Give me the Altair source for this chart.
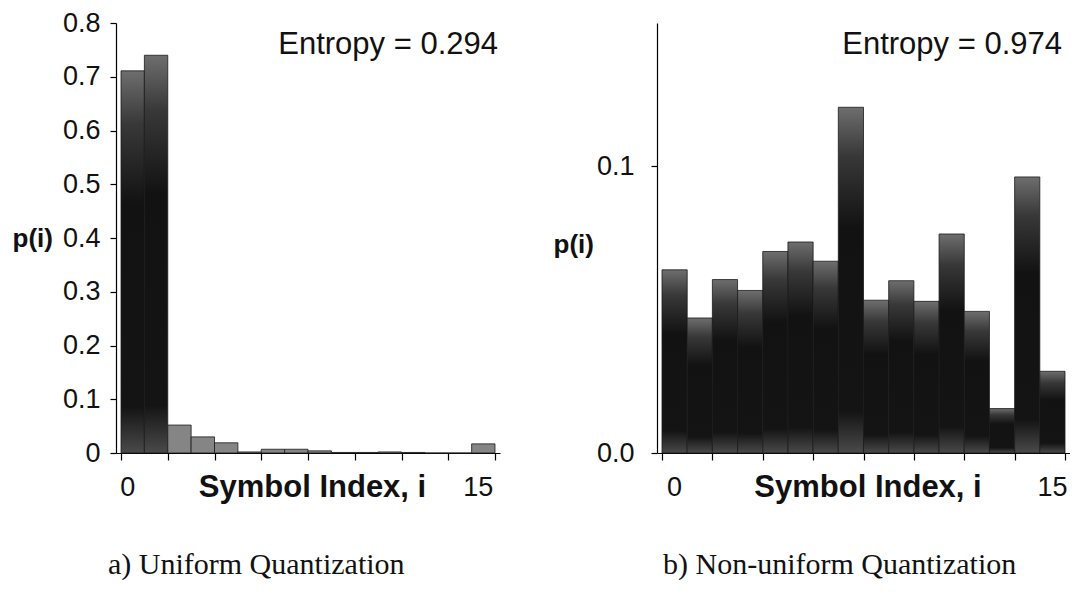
import altair as alt
import pandas as pd

# ---------------- data ----------------
symbols = list(range(16))
p_uniform = [0.711, 0.740, 0.052, 0.030, 0.019, 0.002, 0.007, 0.007,
             0.004, 0.001, 0.001, 0.002, 0.001, 0.0, 0.0, 0.017]
p_nonuniform = [0.0639, 0.0471, 0.0605, 0.0567, 0.0703, 0.0736, 0.0669, 0.1206,
                0.0533, 0.0601, 0.0529, 0.0764, 0.0494, 0.0155, 0.0963, 0.0285]
x_label_values = [0, 15]
y_ticks_uniform = [0, 0.1, 0.2, 0.3, 0.4, 0.5, 0.6, 0.7, 0.8]
y_ticks_nonuniform = [0.0, 0.1]
entropy_texts = ["Entropy = 0.294", "Entropy = 0.974"]
captions = ["a) Uniform Quantization", "b) Non-uniform Quantization"]

SANS = "Liberation Sans"
SERIF = "Liberation Serif"
PLOT_H = 430

dark_fill = alt.LinearGradient(
    gradient="linear",
    stops=[
        alt.GradientStop(color="#6e6e6e", offset=0),
        alt.GradientStop(color="#383838", offset=0.14),
        alt.GradientStop(color="#121212", offset=0.35),
        alt.GradientStop(color="#141414", offset=0.88),
        alt.GradientStop(color="#4a4a4a", offset=1),
    ],
    x1=0, x2=0, y1=0, y2=1,
)


def panel(values, ymax, yticks, yfmt, width, label_pad, title_y, entropy, caption,
          caption_x, label_dx, tall_threshold, entropy_x):
    df = pd.DataFrame({"i": symbols, "i2": [s + 1 for s in symbols], "p": values,
                       "zero": [0.0] * len(symbols)})
    x_enc = alt.X(
        "i:Q",
        scale=alt.Scale(domain=[0, 16], nice=False, zero=False),
        axis=alt.Axis(
            values=list(range(17)), labels=False, grid=False,
            tickSize=7, tickColor="black", tickWidth=1.2,
            domainColor="black", domainWidth=1.2,
            title="Symbol Index, i", titleFont=SANS, titleFontSize=31,
            titleFontWeight="bold", titleColor="#111",
            titleY=43, titleBaseline="alphabetic", titleX=width / 2 + 4,
        ),
    )
    y_enc = alt.Y(
        "p:Q",
        scale=alt.Scale(domain=[0, ymax], nice=False),
        axis=alt.Axis(
            values=yticks, format=yfmt, grid=False,
            tickSize=6, tickColor="black", tickWidth=1.2,
            domainColor="black", domainWidth=1.2,
            labelFont=SANS, labelFontSize=27, labelColor="#111",
            labelPadding=label_pad,
            title="p(i)", titleFont=SANS, titleFontSize=26, titleFontWeight="bold",
            titleColor="#111", titleAngle=0, titleAlign="left",
            titleBaseline="middle", titleX=-104, titleY=title_y,
        ),
    )
    base = alt.Chart(df)
    tall = base.transform_filter(alt.datum.p >= tall_threshold).mark_bar(
        fill=dark_fill, stroke="#1a1a1a", strokeWidth=0.8, orient="vertical"
    ).encode(x=x_enc, x2="i2:Q", y=y_enc, y2="zero:Q")
    small = base.transform_filter(alt.datum.p < tall_threshold).mark_bar(
        fill="#858585", stroke="#1a1a1a", strokeWidth=0.8, orient="vertical"
    ).encode(x=x_enc, x2="i2:Q", y=y_enc, y2="zero:Q")

    lab_df = pd.DataFrame({"v": x_label_values, "txt": [str(v) for v in x_label_values]})
    lab_df["c"] = lab_df["v"] + 0.5
    xlabels = alt.Chart(lab_df).mark_text(
        font=SANS, fontSize=27, color="#111", baseline="alphabetic", align="center",
        dx=label_dx,
    ).encode(x=alt.X("c:Q"), y=alt.value(PLOT_H + 43), text="txt:N")

    ent = alt.Chart(pd.DataFrame({"t": [entropy]})).mark_text(
        font=SANS, fontSize=31, color="#111", align="right", baseline="alphabetic"
    ).encode(x=alt.value(entropy_x), y=alt.value(31), text="t:N")

    cap = alt.Chart(pd.DataFrame({"t": [caption]})).mark_text(
        font=SERIF, fontSize=30, color="#111", align="left", baseline="alphabetic"
    ).encode(x=alt.value(caption_x), y=alt.value(551), text="t:N")

    return alt.layer(tall, small, xlabels, ent, cap).properties(width=width, height=PLOT_H)


left = panel(p_uniform, 0.8, y_ticks_uniform, ".1~f", 384, 10, 215,
             entropy_texts[0], captions[0], -8, -5, 0.1, 382)
right = panel(p_nonuniform, 0.15, y_ticks_nonuniform, ".1f", 413, 17, 221,
              entropy_texts[1], captions[1], 6, 0, 0.0, 405)

chart = alt.hconcat(left, right, spacing=53).properties(
    padding={"left": 12, "top": 9, "right": 0, "bottom": 0},
    background="white",
).configure_view(stroke=None)

chart.save("out.html", embed_options={"renderer": "svg", "actions": False})
